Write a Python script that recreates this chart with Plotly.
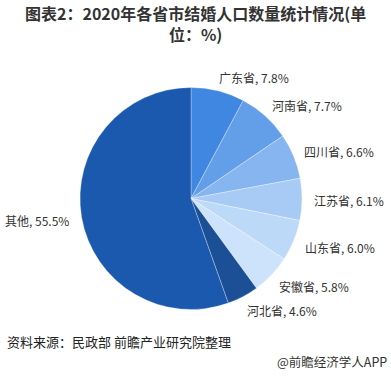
import math
import plotly.graph_objects as go

provinces = ["广东省", "河南省", "四川省", "江苏省", "山东省", "安徽省", "河北省", "其他"]
shares = [7.8, 7.7, 6.6, 6.1, 6.0, 5.8, 4.6, 55.5]
colors = ["#3f87e0", "#639fe8", "#86b5ef", "#a7cbf5", "#bdd9f8", "#cde3fb", "#1b4f96", "#1a59ad"]
title_text = "图表2：2020年各省市结婚人口数量统计情况(单<br>位：%)"
source_text = "资料来源：民政部 前瞻产业研究院整理"
credit_text = "@前瞻经济学人APP"

W, H = 391, 377
cx, cy, R = 191, 198.5, 111
label_r = R * 1.135

fig = go.Figure(go.Pie(
    labels=provinces,
    values=shares,
    sort=False,
    direction="clockwise",
    rotation=0,
    marker=dict(colors=colors, line=dict(color="rgba(255,255,255,0.5)", width=0.6)),
    textinfo="none",
    hoverinfo="skip",
    showlegend=False,
    domain=dict(x=[(cx - R) / W, (cx + R) / W], y=[(H - cy - R) / H, (H - cy + R) / H]),
))

# outside labels placed at each slice's mid-angle, computed from the data
annotations = []
total = sum(shares)
cum = 0.0
for name, v in zip(provinces, shares):
    mid = (cum + v / 2) / total * 2 * math.pi
    cum += v
    px = cx + label_r * math.sin(mid)
    py = cy - label_r * math.cos(mid)
    right_side = math.sin(mid) >= 0
    annotations.append(dict(
        text=f"{name}, {v:.1f}%",
        x=(px - 5 if right_side else px + 4) / W, y=1 - (py + 1) / H,
        xref="paper", yref="paper",
        xanchor="left" if right_side else "right", yanchor="middle",
        align="left" if right_side else "right",
        showarrow=False,
        font=dict(family="Noto Sans CJK SC", size=12, color="#333333"),
    ))

annotations += [
    dict(text=f"<b>{title_text}</b>",
         x=0.5, y=1 - 23.5 / H, xref="paper", yref="paper", xanchor="center", yanchor="middle",
         showarrow=False, align="center",
         font=dict(family="Noto Sans CJK SC", size=16, color="#333333")),
    dict(text=source_text,
         x=5 / W, y=1 - 341 / H, xref="paper", yref="paper", xanchor="left", yanchor="middle",
         showarrow=False, align="left",
         font=dict(family="Noto Sans CJK SC", size=13, color="#222222")),
    dict(text=credit_text,
         x=1 - 2 / W, y=1 - 361.5 / H, xref="paper", yref="paper", xanchor="right", yanchor="middle",
         showarrow=False, align="right",
         font=dict(family="Noto Sans CJK SC", size=12.5, color="#333333")),
]

fig.update_layout(
    width=W, height=H,
    margin=dict(l=0, r=0, t=0, b=0),
    paper_bgcolor="white",
    plot_bgcolor="white",
    annotations=annotations,
)

fig.write_html("out.html", config={"displayModeBar": False},
               post_script="document.body.style.margin='0';")
